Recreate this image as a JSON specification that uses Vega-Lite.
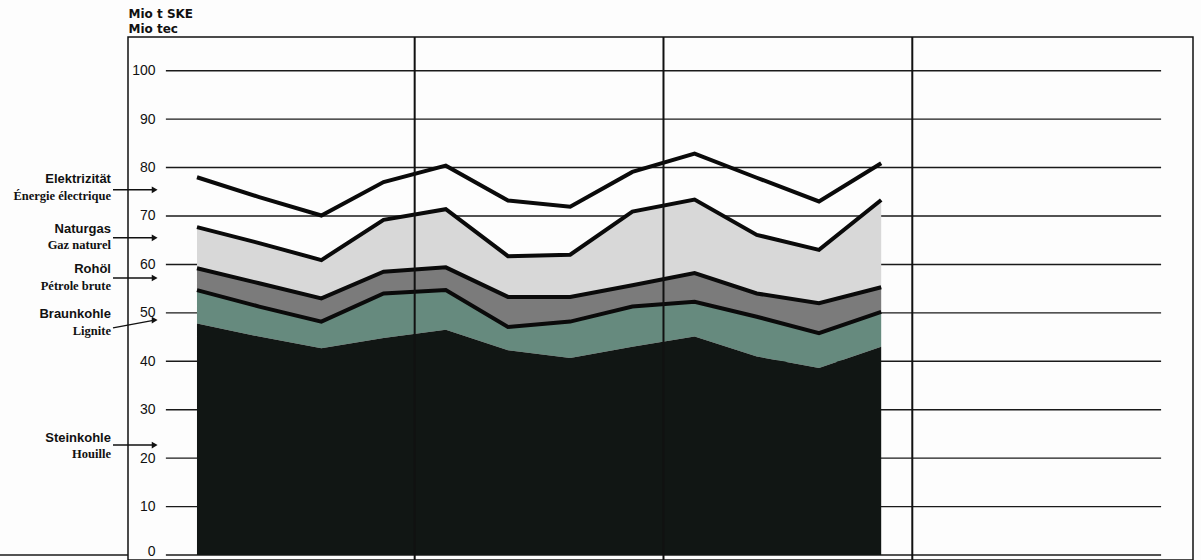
{
  "$schema": "https://vega.github.io/schema/vega-lite/v6.json",
  "width": 1065,
  "height": 523,
  "autosize": {"type": "none"},
  "padding": {"left": 128, "top": 37, "right": 8, "bottom": 0},
  "background": "#fdfdfd",
  "config": {"view": {"stroke": "#111111", "strokeWidth": 1.5}},
  "datasets": {
    "verbrauch": [
      {"quartal": 1, "steinkohle": 47.8, "braunkohle": 54.7, "rohoel": 59.2, "naturgas": 67.7, "elektrizitaet": 78.0},
      {"quartal": 2, "steinkohle": 45.1, "braunkohle": 51.3, "rohoel": 56.1, "naturgas": 64.4, "elektrizitaet": 73.9},
      {"quartal": 3, "steinkohle": 42.7, "braunkohle": 48.2, "rohoel": 53.0, "naturgas": 60.9, "elektrizitaet": 70.1},
      {"quartal": 4, "steinkohle": 44.8, "braunkohle": 54.0, "rohoel": 58.5, "naturgas": 69.2, "elektrizitaet": 77.0},
      {"quartal": 5, "steinkohle": 46.5, "braunkohle": 54.7, "rohoel": 59.4, "naturgas": 71.4, "elektrizitaet": 80.4},
      {"quartal": 6, "steinkohle": 42.3, "braunkohle": 47.1, "rohoel": 53.3, "naturgas": 61.7, "elektrizitaet": 73.2},
      {"quartal": 7, "steinkohle": 40.7, "braunkohle": 48.2, "rohoel": 53.3, "naturgas": 62.0, "elektrizitaet": 71.9},
      {"quartal": 8, "steinkohle": 43.0, "braunkohle": 51.3, "rohoel": 55.7, "naturgas": 70.9, "elektrizitaet": 79.1},
      {"quartal": 9, "steinkohle": 45.1, "braunkohle": 52.3, "rohoel": 58.2, "naturgas": 73.4, "elektrizitaet": 82.9},
      {"quartal": 10, "steinkohle": 41.0, "braunkohle": 49.2, "rohoel": 54.0, "naturgas": 66.1, "elektrizitaet": 77.9},
      {"quartal": 11, "steinkohle": 38.6, "braunkohle": 45.8, "rohoel": 52.0, "naturgas": 63.0, "elektrizitaet": 73.0},
      {"quartal": 12, "steinkohle": 43.0, "braunkohle": 50.2, "rohoel": 55.3, "naturgas": 73.3, "elektrizitaet": 80.9}
    ],
    "beschriftung": [
      {"de": "Elektrizität", "fr": "Énergie électrique", "text_bei": 75.8, "pfeil_von": 75.4, "pfeil_bis": 75.4},
      {"de": "Naturgas", "fr": "Gaz naturel", "text_bei": 65.6, "pfeil_von": 65.5, "pfeil_bis": 65.5},
      {"de": "Rohöl", "fr": "Pétrole brute", "text_bei": 57.2, "pfeil_von": 57.2, "pfeil_bis": 57.2},
      {"de": "Braunkohle", "fr": "Lignite", "text_bei": 48.0, "pfeil_von": 46.9, "pfeil_bis": 48.5},
      {"de": "Steinkohle", "fr": "Houille", "text_bei": 22.5, "pfeil_von": 22.7, "pfeil_bis": 22.7}
    ],
    "raster": [
      {"wert": 0}, {"wert": 10}, {"wert": 20}, {"wert": 30}, {"wert": 40}, {"wert": 50},
      {"wert": 60}, {"wert": 70}, {"wert": 80}, {"wert": 90}, {"wert": 100}
    ],
    "jahre": [{"grenze": 4.5}, {"grenze": 8.5}, {"grenze": 12.5}]
  },
  "layer": [
    {
      "data": {"name": "raster"},
      "mark": {"type": "rule", "stroke": "#1a1a1a", "strokeWidth": 1.4},
      "encoding": {
        "y": {
          "field": "wert", "type": "quantitative",
          "scale": {"domain": [-1.03, 106.96], "nice": false, "zero": false},
          "axis": {
            "values": [0, 10, 20, 30, 40, 50, 60, 70, 80, 90, 100],
            "grid": false, "domain": false, "ticks": false, "tickSize": 0,
            "labelPadding": -27, "labelAlign": "right", "labelFlush": false, "labelOverlap": false,
            "labelOffset": {"condition": {"test": "datum.value == 0", "value": -4}, "value": 0},
            "labelFont": "Liberation Sans", "labelFontSize": 14, "labelColor": "#111111",
            "title": ["Mio t SKE", "Mio tec"],
            "titleAngle": 0, "titleAlign": "left", "titleBaseline": "top",
            "titleX": 0, "titleY": -29, "titleLineHeight": 15,
            "titleFont": "DejaVu Sans", "titleFontSize": 12, "titleFontWeight": "bold", "titleColor": "#111111"
          }
        },
        "x": {"datum": 0.5, "type": "quantitative", "scale": {"domain": [-0.109, 17.013], "nice": false, "zero": false}, "axis": null},
        "x2": {"datum": 16.5}
      }
    },
    {
      "data": {"name": "verbrauch"},
      "mark": {"type": "area", "color": "#d8d8d8"},
      "encoding": {
        "x": {"field": "quartal", "type": "quantitative", "axis": null},
        "y": {"field": "naturgas", "type": "quantitative"},
        "y2": {"field": "rohoel"}
      }
    },
    {
      "data": {"name": "verbrauch"},
      "mark": {"type": "area", "color": "#7b7b7b"},
      "encoding": {
        "x": {"field": "quartal", "type": "quantitative", "axis": null},
        "y": {"field": "rohoel", "type": "quantitative"},
        "y2": {"field": "braunkohle"}
      }
    },
    {
      "data": {"name": "verbrauch"},
      "mark": {"type": "area", "color": "#668a7e"},
      "encoding": {
        "x": {"field": "quartal", "type": "quantitative", "axis": null},
        "y": {"field": "braunkohle", "type": "quantitative"},
        "y2": {"field": "steinkohle"}
      }
    },
    {
      "data": {"name": "verbrauch"},
      "mark": {"type": "area", "color": "#111614"},
      "encoding": {
        "x": {"field": "quartal", "type": "quantitative", "axis": null},
        "y": {"field": "steinkohle", "type": "quantitative"},
        "y2": {"datum": 0}
      }
    },
    {
      "data": {"name": "verbrauch"},
      "mark": {"type": "line", "color": "#0a0a0a", "strokeWidth": 4, "strokeCap": "butt"},
      "encoding": {
        "x": {"field": "quartal", "type": "quantitative", "axis": null},
        "y": {"field": "braunkohle", "type": "quantitative"}
      }
    },
    {
      "data": {"name": "verbrauch"},
      "mark": {"type": "line", "color": "#0a0a0a", "strokeWidth": 4, "strokeCap": "butt"},
      "encoding": {
        "x": {"field": "quartal", "type": "quantitative", "axis": null},
        "y": {"field": "rohoel", "type": "quantitative"}
      }
    },
    {
      "data": {"name": "verbrauch"},
      "mark": {"type": "line", "color": "#0a0a0a", "strokeWidth": 4, "strokeCap": "butt"},
      "encoding": {
        "x": {"field": "quartal", "type": "quantitative", "axis": null},
        "y": {"field": "naturgas", "type": "quantitative"}
      }
    },
    {
      "data": {"name": "verbrauch"},
      "mark": {"type": "line", "color": "#0a0a0a", "strokeWidth": 4, "strokeCap": "butt"},
      "encoding": {
        "x": {"field": "quartal", "type": "quantitative", "axis": null},
        "y": {"field": "elektrizitaet", "type": "quantitative"}
      }
    },
    {
      "data": {"name": "jahre"},
      "mark": {"type": "rule", "stroke": "#111111", "strokeWidth": 2},
      "encoding": {
        "x": {"field": "grenze", "type": "quantitative", "axis": null}
      }
    },
    {
      "data": {"name": "raster"},
      "transform": [{"filter": "datum.wert == 0"}],
      "mark": {"type": "rule", "stroke": "#1a1a1a", "strokeWidth": 1.4, "clip": false},
      "encoding": {
        "y": {"field": "wert", "type": "quantitative"},
        "x": {"datum": -2.2, "type": "quantitative", "axis": null},
        "x2": {"datum": -0.109}
      }
    },
    {
      "data": {"name": "beschriftung"},
      "mark": {"type": "rule", "stroke": "#111111", "strokeWidth": 1.5},
      "encoding": {
        "x": {"datum": -0.35, "type": "quantitative", "axis": null},
        "x2": {"datum": 0.32},
        "y": {"field": "pfeil_von", "type": "quantitative"},
        "y2": {"field": "pfeil_bis"}
      }
    },
    {
      "data": {"name": "beschriftung"},
      "mark": {"type": "point", "shape": "triangle-right", "filled": true, "size": 45, "color": "#111111", "opacity": 1},
      "encoding": {
        "x": {"datum": 0.32, "type": "quantitative", "axis": null},
        "y": {"field": "pfeil_bis", "type": "quantitative"}
      }
    },
    {
      "data": {"name": "beschriftung"},
      "mark": {"type": "text", "align": "right", "baseline": "middle", "dy": -8.5, "font": "Liberation Sans", "fontSize": 13, "fontWeight": "bold", "color": "#111111"},
      "encoding": {
        "x": {"datum": -0.383, "type": "quantitative", "axis": null},
        "y": {"field": "text_bei", "type": "quantitative"},
        "text": {"field": "de"}
      }
    },
    {
      "data": {"name": "beschriftung"},
      "mark": {"type": "text", "align": "right", "baseline": "middle", "dy": 8, "font": "Liberation Serif", "fontSize": 12.5, "fontWeight": "bold", "color": "#111111"},
      "encoding": {
        "x": {"datum": -0.383, "type": "quantitative", "axis": null},
        "y": {"field": "text_bei", "type": "quantitative"},
        "text": {"field": "fr"}
      }
    }
  ]
}
